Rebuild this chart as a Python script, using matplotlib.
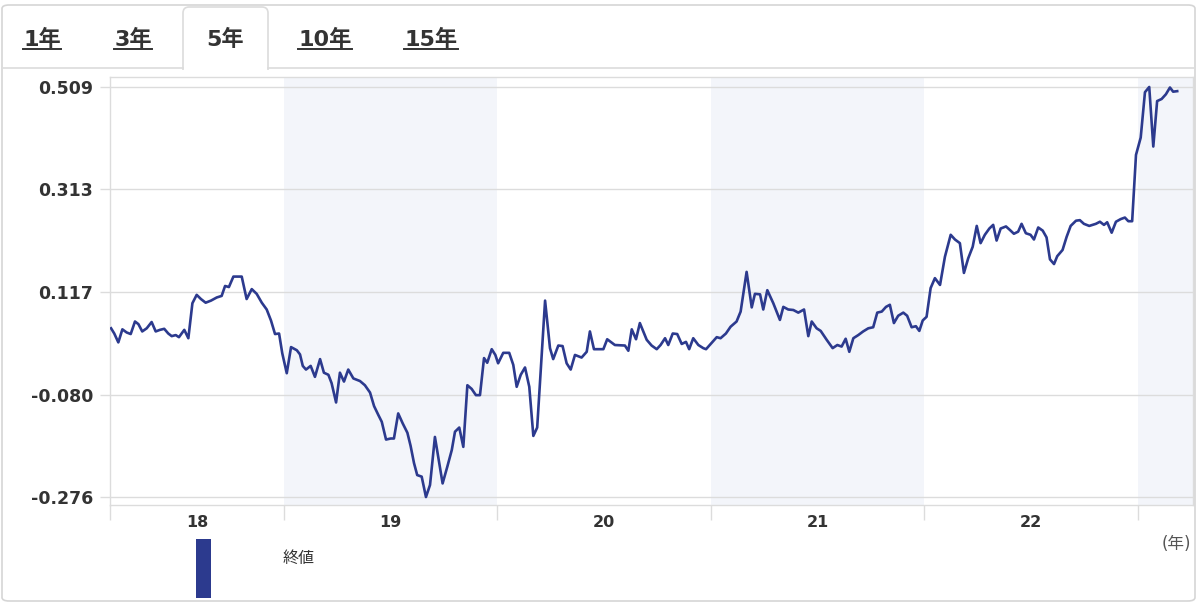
import matplotlib
matplotlib.use("Agg")
import matplotlib.pyplot as plt
import numpy as np
from matplotlib.patches import Rectangle, FancyBboxPatch, PathPatch
from matplotlib.path import Path
from matplotlib.lines import Line2D

plt.rcParams['font.family'] = ['DejaVu Sans', 'Noto Sans CJK JP']
plt.rcParams['axes.unicode_minus'] = False

# data (decimal year, value)
dates = [
    2018.190, 2018.205, 2018.224, 2018.243, 2018.263, 2018.282, 2018.302, 2018.318, 2018.336, 2018.357,
    2018.380, 2018.399, 2018.419, 2018.439, 2018.458, 2018.474, 2018.493, 2018.508, 2018.533, 2018.552,
    2018.571, 2018.591, 2018.611, 2018.633, 2018.658, 2018.685, 2018.708, 2018.724, 2018.742, 2018.763,
    2018.802, 2018.825, 2018.849, 2018.872, 2018.896, 2018.919, 2018.939, 2018.958, 2018.977, 2018.992,
    2019.013, 2019.033, 2019.060, 2019.075, 2019.088, 2019.103, 2019.125, 2019.145, 2019.169, 2019.187,
    2019.208, 2019.223, 2019.244, 2019.262, 2019.281, 2019.301, 2019.325, 2019.356, 2019.379, 2019.403,
    2019.422, 2019.442, 2019.458, 2019.478, 2019.500, 2019.515, 2019.535, 2019.556, 2019.578, 2019.593,
    2019.609, 2019.624, 2019.645, 2019.665, 2019.684, 2019.707, 2019.727, 2019.743, 2019.765, 2019.786,
    2019.801, 2019.821, 2019.840, 2019.859, 2019.879, 2019.899, 2019.918, 2019.937, 2019.952, 2019.973,
    2019.990, 2020.003, 2020.027, 2020.055, 2020.074, 2020.090, 2020.109, 2020.129, 2020.149, 2020.168,
    2020.186, 2020.223, 2020.246, 2020.261, 2020.285, 2020.305, 2020.324, 2020.343, 2020.363, 2020.394,
    2020.418, 2020.433, 2020.452, 2020.496, 2020.514, 2020.550, 2020.597, 2020.613, 2020.629, 2020.649,
    2020.667, 2020.699, 2020.722, 2020.746, 2020.764, 2020.785, 2020.800, 2020.821, 2020.842, 2020.863,
    2020.883, 2020.898, 2020.917, 2020.941, 2020.964, 2020.977, 2020.999, 2021.027, 2021.045, 2021.070,
    2021.092, 2021.120, 2021.139, 2021.167, 2021.191, 2021.206, 2021.230, 2021.245, 2021.264, 2021.292,
    2021.323, 2021.339, 2021.362, 2021.386, 2021.409, 2021.436, 2021.456, 2021.472, 2021.495, 2021.514,
    2021.542, 2021.570, 2021.592, 2021.612, 2021.631, 2021.648, 2021.667, 2021.690, 2021.713, 2021.737,
    2021.760, 2021.779, 2021.800, 2021.820, 2021.838, 2021.857, 2021.877, 2021.901, 2021.919, 2021.940,
    2021.960, 2021.976, 2021.992, 2022.010, 2022.029, 2022.049, 2022.073, 2022.096, 2022.123, 2022.143,
    2022.166, 2022.185, 2022.205, 2022.226, 2022.245, 2022.263, 2022.283, 2022.304, 2022.322, 2022.338,
    2022.357, 2022.382, 2022.401, 2022.419, 2022.439, 2022.455, 2022.475, 2022.497, 2022.513, 2022.533,
    2022.554, 2022.572, 2022.588, 2022.607, 2022.622, 2022.647, 2022.666, 2022.685, 2022.710, 2022.728,
    2022.747, 2022.772, 2022.803, 2022.822, 2022.841, 2022.856, 2022.877, 2022.897, 2022.919, 2022.939,
    2022.955, 2022.973, 2022.991, 2023.013, 2023.033, 2023.053, 2023.072, 2023.090, 2023.111, 2023.131,
    2023.150, 2023.165, 2023.184,
]
values = [
    0.047, 0.037, 0.020, 0.045, 0.039, 0.036, 0.060, 0.055, 0.041, 0.047,
    0.059, 0.041, 0.044, 0.046, 0.037, 0.032, 0.034, 0.030, 0.044, 0.028,
    0.095, 0.111, 0.103, 0.096, 0.100, 0.106, 0.109, 0.128, 0.126, 0.146,
    0.146, 0.103, 0.122, 0.113, 0.096, 0.083, 0.062, 0.036, 0.037, -0.001,
    -0.039, 0.011, 0.005, -0.003, -0.025, -0.032, -0.025, -0.046, -0.012, -0.038,
    -0.042, -0.058, -0.095, -0.038, -0.055, -0.032, -0.049, -0.054, -0.062, -0.076,
    -0.102, -0.119, -0.132, -0.166, -0.164, -0.164, -0.116, -0.135, -0.153, -0.178,
    -0.211, -0.234, -0.237, -0.276, -0.253, -0.161, -0.211, -0.250, -0.218, -0.186,
    -0.151, -0.143, -0.180, -0.062, -0.069, -0.081, -0.081, -0.010, -0.019, 0.007,
    -0.004, -0.020, 0.000, 0.000, -0.023, -0.065, -0.042, -0.028, -0.065, -0.159,
    -0.143, 0.100, 0.009, -0.012, 0.014, 0.013, -0.020, -0.032, -0.004, -0.009,
    0.002, 0.041, 0.007, 0.007, 0.026, 0.015, 0.014, 0.004, 0.045, 0.026,
    0.057, 0.025, 0.014, 0.007, 0.015, 0.028, 0.015, 0.037, 0.036, 0.017,
    0.021, 0.007, 0.028, 0.015, 0.009, 0.007, 0.017, 0.030, 0.028, 0.037,
    0.050, 0.060, 0.079, 0.155, 0.087, 0.113, 0.112, 0.083, 0.120, 0.095,
    0.063, 0.088, 0.083, 0.082, 0.077, 0.083, 0.032, 0.060, 0.047, 0.042,
    0.025, 0.009, 0.015, 0.012, 0.027, 0.002, 0.028, 0.034, 0.041, 0.047,
    0.049, 0.077, 0.079, 0.088, 0.092, 0.057, 0.071, 0.077, 0.071, 0.049,
    0.051, 0.042, 0.062, 0.069, 0.124, 0.143, 0.130, 0.184, 0.226, 0.217,
    0.210, 0.153, 0.181, 0.203, 0.243, 0.210, 0.226, 0.238, 0.245, 0.215,
    0.238, 0.242, 0.235, 0.228, 0.232, 0.247, 0.229, 0.226, 0.217, 0.240,
    0.234, 0.221, 0.179, 0.170, 0.185, 0.197, 0.222, 0.243, 0.253, 0.254,
    0.247, 0.243, 0.247, 0.251, 0.245, 0.250, 0.230, 0.251, 0.256, 0.259,
    0.252, 0.252, 0.379, 0.412, 0.499, 0.509, 0.395, 0.482, 0.486, 0.495,
    0.508, 0.500, 0.501,
]
tabs = ['1年', '3年', '5年', '10年', '15年']
selected_tab = '5年'
year_labels = ['18', '19', '20', '21', '22']
year_bounds = [2019, 2020, 2021, 2022, 2023]
yticks = [-0.276, -0.080, 0.117, 0.313, 0.509]
legend_label = '終値'
unit_label = '(年)'

W, H = 1200, 608


def fx(x):
    return x / W


def fy(y):
    return 1 - y / H


line_col = '#2c3a8e'
grid_col = '#dcdcdc'
text_col = '#333333'

fig = plt.figure(figsize=(12, 6.08), dpi=100)
ax = fig.add_axes([fx(110), fy(505), (1193 - 110) / W, (505 - 77) / H])

x0, x1 = 2018.185, 2023.258
ax.set_xlim(x0, x1)
ax.set_ylim(-0.2913, 0.5281)

# shaded alternating years
for a, b in [(2019, 2020), (2021, 2022), (2023, x1)]:
    ax.axvspan(a, b, color='#f3f5fa', lw=0, zorder=0)

ax.plot(dates, values, color=line_col, lw=1.9, zorder=3)

ax.set_yticks(yticks)
ax.set_yticklabels(['%.3f' % v for v in yticks])
ax.grid(axis='y', color=grid_col, lw=1)
ax.tick_params(axis='y', length=7.2, width=1, color=grid_col, pad=5,
               labelsize=12.5, labelcolor=text_col)
for lab in ax.get_yticklabels():
    lab.set_fontweight('bold')

ax.set_xticks([x0] + year_bounds)
ax.set_xticklabels([])
ax.tick_params(axis='x', which='major', length=11, width=1, color=grid_col)
label_pos = [(x0 + 2019) / 2] + [y + 0.5 for y in year_bounds[:-1]]
ax.set_xticks(label_pos, minor=True)
ax.set_xticklabels(year_labels, minor=True)
ax.tick_params(axis='x', which='minor', length=0, pad=7, labelsize=11.5, labelcolor=text_col)
for lab in ax.get_xticklabels(minor=True):
    lab.set_fontweight('bold')

for s in ax.spines.values():
    s.set_color(grid_col)
    s.set_linewidth(1)
ax.set_axisbelow(True)

# outer frame
fig.patches.append(FancyBboxPatch((fx(2), fy(601)), (1195 - 2) / W, (601 - 5) / H,
                                  boxstyle='round,pad=0,rounding_size=0.006',
                                  transform=fig.transFigure, fc='none', ec='#d5d5d5', lw=1.2))

# tab bar
fig.add_artist(Line2D([fx(2), fx(183)], [fy(68), fy(68)], color=grid_col, lw=1.2))
fig.add_artist(Line2D([fx(268), fx(1195)], [fy(68), fy(68)], color=grid_col, lw=1.2))
verts = [(183, 70), (183, 13), (183, 7), (189, 7), (262, 7), (268, 7), (268, 13), (268, 70)]
codes = [Path.MOVETO, Path.LINETO, Path.CURVE3, Path.CURVE3, Path.LINETO,
         Path.CURVE3, Path.CURVE3, Path.LINETO]
tab_path = Path([(fx(a), fy(b)) for a, b in verts], codes)
fig.patches.append(PathPatch(tab_path, transform=fig.transFigure, fc='none', ec=grid_col, lw=1.2))

tab_x = [42, 133, 225, 325, 431]
tab_texts = []
for t, x in zip(tabs, tab_x):
    tt = fig.text(fx(x), fy(39), t, ha='center', va='center', fontsize=16,
                  fontweight='bold', color=text_col)
    tab_texts.append(tt)

fig.canvas.draw()
for tt in tab_texts:
    if tt.get_text() == selected_tab:
        continue
    bb = tt.get_window_extent()
    fig.add_artist(Line2D([bb.x0 / W, bb.x1 / W], [fy(49), fy(49)], color=text_col, lw=1.4))

# legend
fig.patches.append(Rectangle((fx(196), fy(598)), 15 / W, (598 - 539) / H,
                             transform=fig.transFigure, fc=line_col, ec='none'))
fig.text(fx(299), fy(558), legend_label, ha='center', va='center', fontsize=11.5, color=text_col)
fig.text(fx(1176), fy(544), unit_label, ha='center', va='center', fontsize=12, color='#555555')

fig.savefig('out.png', dpi=100)
